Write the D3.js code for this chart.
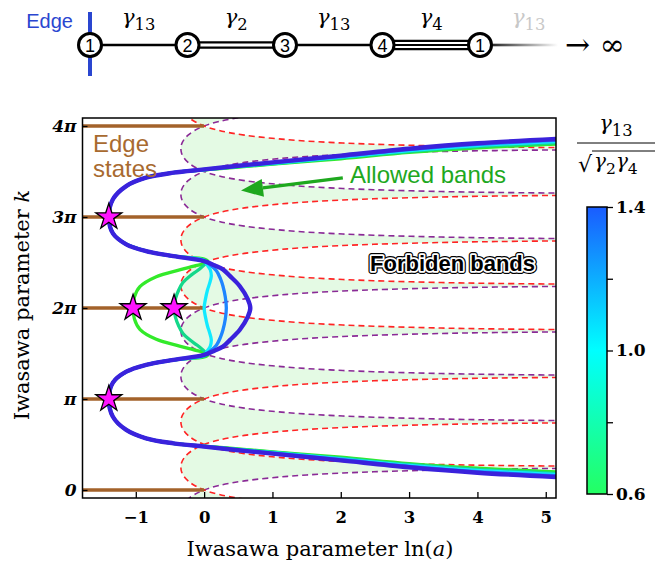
<!DOCTYPE html>
<html lang="en">
<head>
<meta charset="UTF-8">
<title>Iwasawa bands</title>
<script src="https://cdn.jsdelivr.net/npm/d3@7"></script>
<style>
  body { margin: 0; background: #fff; }
  svg { display: block; }
</style>
</head>
<body>
<svg id="chart" width="667" height="563"></svg>
<script>
// ---- data (k in units of pi, x = ln(a)) ----
const nodeLabels = ['1', '2', '3', '4', '1'];
const bondSubs = ['13', '2', '13', '4', '13'];
const bondLines = [1, 2, 1, 3];

const xTicks = [-1, 0, 1, 2, 3, 4, 5];
const yTicks = [0, 1, 2, 3, 4];
const yTickLabels = ['0', 'π', '2π', '3π', '4π'];

// band edge lobe: half width (pi units) vs ln(a)
const edgeHalf = [0, 0.05, 0.1, 0.15, 0.2, 0.25, 0.3, 0.35, 0.4, 0.43, 0.45, 0.47, 0.48, 0.49, 0.495];
const edgeX    = [-0.34, -0.33, -0.295, -0.235, -0.14, 0, 0.22, 0.59, 1.22, 1.84, 2.48, 3.47, 4.27, 5.65, 7.03];
const redCentres = [0.25, 0.75, 2.25, 2.75, 4.25, 4.75];
const purpleCentres = [-0.75, -0.25, 1.25, 1.75, 3.25, 3.75];

// edge state levels
const edgeStateK = [0, 1, 2, 3, 4];

// trajectories, colour parameter gamma13/sqrt(gamma2 gamma4)
const params = [0.6, 0.8, 1.0, 1.2, 1.4];
const curveColors = ['#33ea2a', '#14d88a', '#12eaff', '#1e86ff', '#3a22dc'];
const starArc = [[-0.45, 0.513], [-0.85, 0.568], [-1.14, 0.66], [-1.335, 0.805], [-1.395, 1.0],
                 [-1.335, 1.18], [-1.14, 1.30], [-0.85, 1.375], [-0.45, 1.43]];
const tailX = [5.4, 4, 3, 2, 1, 0.5, 0];
const tailK = {
  0.6: [0.19, 0.24, 0.29, 0.36, 0.42, 0.452, 0.483],
  0.8: [0.175, 0.227, 0.28, 0.35, 0.415, 0.447, 0.481],
  1.0: [0.163, 0.214, 0.27, 0.343, 0.41, 0.443, 0.479],
  1.2: [0.15, 0.202, 0.26, 0.335, 0.405, 0.44, 0.478],
  1.4: [0.133, 0.19, 0.25, 0.325, 0.40, 0.437, 0.477]
};
const innerArc = {
  0.6: [[0, 1.462], [0.05, 1.482], [0.02, 1.505], [-0.15, 1.54], [-0.36, 1.582], [-0.70, 1.656], [-0.94, 1.766], [-1.02, 1.88], [-1.04, 2.0]],
  0.8: [[0, 1.47], [0.04, 1.49], [0.01, 1.52], [-0.1, 1.59], [-0.21, 1.65], [-0.31, 1.72], [-0.37, 1.8], [-0.42, 1.9], [-0.44, 2.0]],
  1.0: [[0, 1.478], [0.04, 1.52], [0.09, 1.58], [0.105, 1.65], [0.08, 1.73], [0.05, 1.8], [0.02, 1.9], [0, 2.0]],
  1.2: [[0, 1.482], [0.08, 1.52], [0.18, 1.59], [0.24, 1.68], [0.275, 1.758], [0.31, 1.88], [0.325, 2.0]],
  1.4: [[0, 1.484], [0.15, 1.53], [0.275, 1.575], [0.38, 1.65], [0.52, 1.758], [0.64, 1.905], [0.676, 2.0]]
};
const stars = [[-1.395, 1], [-1.395, 3], [-1.04, 2], [-0.44, 2]];

const cbTicks = [0.6, 0.8, 1.0, 1.2, 1.4];

// ---- setup ----
const svg = d3.select('#chart');
const serif = "'DejaVu Serif', 'Liberation Serif', serif";
const sans = "'Liberation Sans', Arial, sans-serif";

const x = d3.scaleLinear().domain([-1.78, 5.15]).range([82.5, 556]);
const y = d3.scaleLinear().domain([-0.088, 4.088]).range([498, 118]);

svg.append('defs').append('clipPath').attr('id', 'plotclip')
  .append('rect').attr('x', 82.5).attr('y', 118).attr('width', 556 - 82.5).attr('height', 498 - 118);

function gamma(sel, sub, size) {
  sel.append('tspan').attr('font-style', 'italic').text('γ');
  sel.append('tspan').attr('dy', size * 0.28).attr('font-size', size * 0.78).text(sub);
}

// ---- top chain diagram ----
const chain = svg.append('g');
const nx = d3.scalePoint().domain(d3.range(nodeLabels.length)).range([90, 480]);
const cy = 45;

// fading bond to infinity
const grad = svg.select('defs').append('linearGradient').attr('id', 'fade')
  .attr('x1', '0%').attr('x2', '100%');
grad.append('stop').attr('offset', '0%').attr('stop-color', '#000');
grad.append('stop').attr('offset', '100%').attr('stop-color', '#fff');
chain.append('rect').attr('x', nx(4)).attr('y', cy - 1.3).attr('width', 78).attr('height', 2.6)
  .attr('fill', 'url(#fade)');

bondLines.forEach((n, i) => {
  const offs = n === 1 ? [0] : n === 2 ? [-2.6, 2.6] : [-4.2, 0, 4.2];
  offs.forEach(o => {
    chain.append('line')
      .attr('x1', nx(i)).attr('x2', nx(i + 1))
      .attr('y1', cy + o).attr('y2', cy + o)
      .attr('stroke', '#000').attr('stroke-width', n === 1 ? 2.6 : 2.2);
  });
});

bondSubs.forEach((s, i) => {
  const t = chain.append('text')
    .attr('x', nx(i) + (nx(1) - nx(0)) / 2).attr('y', 24)
    .attr('text-anchor', 'middle')
    .attr('font-family', serif).attr('font-size', 21)
    .attr('fill', i === 4 ? '#c8c8c8' : '#000');
  gamma(t, s, 21);
});

// edge bar
chain.append('line').attr('x1', nx(0)).attr('x2', nx(0)).attr('y1', 12).attr('y2', 76)
  .attr('stroke', '#2a46d0').attr('stroke-width', 4);
chain.append('text').attr('x', 73).attr('y', 28).attr('text-anchor', 'end')
  .attr('font-family', sans).attr('font-size', 20).attr('fill', '#2a46d0').text('Edge');

const nodes = chain.selectAll('g.node').data(nodeLabels).enter().append('g')
  .attr('transform', (d, i) => `translate(${nx(i)},${cy})`);
nodes.append('circle').attr('r', 11.5).attr('fill', '#fff').attr('stroke', '#000').attr('stroke-width', 3);
nodes.append('text').attr('y', 6.5).attr('text-anchor', 'middle')
  .attr('font-family', sans).attr('font-size', 18).text(d => d);

chain.append('text').attr('x', 565).attr('y', 55)
  .attr('font-family', serif).attr('font-size', 30).text('→ ∞');

// ---- main plot ----
const plot = svg.append('g').attr('clip-path', 'url(#plotclip)');

function lobe(c) {
  const pts = [];
  for (let i = edgeHalf.length - 1; i >= 0; i--) pts.push([edgeX[i], c - edgeHalf[i]]);
  for (let i = 1; i < edgeHalf.length; i++) pts.push([edgeX[i], c + edgeHalf[i]]);
  return pts;
}
const edgeLine = d3.line().x(d => x(d[0])).y(d => y(d[1])).curve(d3.curveCatmullRom.alpha(0.5));

// allowed bands fill: odd overlap count
const allCentres = redCentres.concat(purpleCentres);
plot.append('path')
  .attr('d', allCentres.map(c => edgeLine(lobe(c)) + 'Z').join(' '))
  .attr('fill', '#e4fae4').attr('fill-rule', 'evenodd');

// dashed band edges
[[purpleCentres, '#8a2a96'], [redCentres, '#ff2424']].forEach(([cs, col]) => {
  plot.selectAll(null).data(cs).enter().append('path')
    .attr('d', c => edgeLine(lobe(c)))
    .attr('fill', 'none').attr('stroke', col).attr('stroke-width', 1.6)
    .attr('stroke-dasharray', '6,4');
});

// edge states
plot.selectAll('line.edge').data(edgeStateK).enter().append('line')
  .attr('x1', x(-1.78)).attr('x2', x(0))
  .attr('y1', d => y(d)).attr('y2', d => y(d))
  .attr('stroke', '#a3622a').attr('stroke-width', 3.5);

// trajectories
function trajectory(p) {
  const bottom = tailX.map((tx, i) => [tx, tailK[p][i]]).concat(starArc, innerArc[p]);
  const top = bottom.slice(0, -1).reverse().map(d => [d[0], 4 - d[1]]);
  return bottom.concat(top);
}
const trajLine = d3.line().x(d => x(d[0])).y(d => y(d[1])).curve(d3.curveCatmullRom.alpha(0.5));
params.forEach((p, i) => {
  plot.append('path').attr('d', trajLine(trajectory(p)))
    .attr('fill', 'none').attr('stroke', curveColors[i])
    .attr('stroke-width', i === params.length - 1 ? 4.4 : 3.3)
    .attr('stroke-linejoin', 'round');
});

// stars
svg.selectAll('path.star').data(stars).enter().append('path')
  .attr('transform', d => `translate(${x(d[0])},${y(d[1])})`)
  .attr('d', d3.symbol(d3.symbolStar, 210))
  .attr('fill', '#ff14ff').attr('stroke', '#000').attr('stroke-width', 1.3);

// frame and axes
svg.append('rect').attr('x', 82.5).attr('y', 118).attr('width', 556 - 82.5).attr('height', 498 - 118)
  .attr('fill', 'none').attr('stroke', '#000').attr('stroke-width', 1.5);

const xAxis = svg.append('g').attr('transform', 'translate(0,498)')
  .call(d3.axisBottom(x).tickValues(xTicks).tickSize(-6).tickPadding(13).tickFormat(d3.format('d')));
const yAxis = svg.append('g').attr('transform', 'translate(82.5,0)')
  .call(d3.axisLeft(y).tickValues(yTicks).tickSize(-5).tickPadding(6).tickFormat((d, i) => yTickLabels[i]));
[xAxis, yAxis].forEach(a => {
  a.select('.domain').remove();
  a.selectAll('line').attr('stroke', '#000').attr('stroke-width', 1.3);
  a.selectAll('text').attr('font-family', serif).attr('font-weight', 'bold')
    .attr('font-size', 16.5).attr('fill', '#000');
});
yAxis.selectAll('text').attr('font-style', 'italic').attr('font-size', 17);

svg.append('text').attr('x', 320).attr('y', 556).attr('text-anchor', 'middle')
  .attr('font-family', serif).attr('font-size', 21)
  .call(t => {
    t.append('tspan').text('Iwasawa parameter ln(');
    t.append('tspan').attr('font-style', 'italic').text('a');
    t.append('tspan').text(')');
  });
svg.append('text').attr('transform', 'translate(29,305) rotate(-90)').attr('text-anchor', 'middle')
  .attr('font-family', serif).attr('font-size', 21)
  .call(t => {
    t.append('tspan').text('Iwasawa parameter ');
    t.append('tspan').attr('font-style', 'italic').text('k');
  });

// annotations
svg.append('text').attr('x', 93).attr('y', 152).attr('font-family', sans).attr('font-size', 24)
  .attr('fill', '#a86a30').text('Edge');
svg.append('text').attr('x', 93).attr('y', 177).attr('font-family', sans).attr('font-size', 24)
  .attr('fill', '#a86a30').text('states');

svg.append('text').attr('x', 350).attr('y', 183).attr('font-family', sans).attr('font-size', 24)
  .attr('fill', '#1ea81e').text('Allowed bands');
const ax0 = [x(2.03), y(3.43)], ax1 = [x(0.54), y(3.29)];
const ang = Math.atan2(ax1[1] - ax0[1], ax1[0] - ax0[0]);
const hl = 22, hw = 9;
const base = [ax1[0] - hl * Math.cos(ang), ax1[1] - hl * Math.sin(ang)];
svg.append('line').attr('x1', ax0[0]).attr('y1', ax0[1]).attr('x2', base[0]).attr('y2', base[1])
  .attr('stroke', '#1ea81e').attr('stroke-width', 3.5);
svg.append('path').attr('fill', '#1ea81e')
  .attr('d', `M${ax1[0]},${ax1[1]}L${base[0] - hw * Math.sin(ang)},${base[1] + hw * Math.cos(ang)}L${base[0] + hw * Math.sin(ang)},${base[1] - hw * Math.cos(ang)}Z`);

const fb = svg.append('g').attr('font-family', sans).attr('font-size', 22).attr('font-weight', 'bold');
[['#000', 6], ['#fff', 3.6]].forEach(([c, w]) => {
  fb.append('text').attr('x', 370).attr('y', 271).attr('fill', 'none').attr('stroke', c)
    .attr('stroke-width', w).attr('stroke-linejoin', 'round').text('Forbiden bands');
});
fb.append('text').attr('x', 370).attr('y', 271).attr('fill', '#000').text('Forbiden bands');

// ---- colour bar ----
const cb = d3.scaleLinear().domain([0.6, 1.4]).range([494, 207]);
const cbg = svg.select('defs').append('linearGradient').attr('id', 'cbgrad')
  .attr('x1', '0%').attr('x2', '0%').attr('y1', '100%').attr('y2', '0%');
[['0%', '#24ff62'], ['50%', '#00ffff'], ['100%', '#1a5cff']].forEach(([o, c]) =>
  cbg.append('stop').attr('offset', o).attr('stop-color', c));
svg.append('rect').attr('x', 587).attr('y', cb(1.4)).attr('width', 20).attr('height', cb(0.6) - cb(1.4))
  .attr('fill', 'url(#cbgrad)').attr('stroke', '#000').attr('stroke-width', 1.5);
const cbAxis = svg.append('g').attr('transform', 'translate(607,0)')
  .call(d3.axisRight(cb).tickValues(cbTicks).tickSize(6).tickPadding(3)
    .tickFormat(d => (Math.abs(d - 0.8) < 1e-6 || Math.abs(d - 1.2) < 1e-6) ? '' : d3.format('.1f')(d)));
cbAxis.select('.domain').remove();
cbAxis.selectAll('line').attr('stroke', '#000').attr('stroke-width', 1.3);
cbAxis.selectAll('text').attr('font-family', serif).attr('font-weight', 'bold')
  .attr('font-size', 17).attr('fill', '#000');

const num = svg.append('text').attr('x', 616).attr('y', 130).attr('text-anchor', 'middle')
  .attr('font-family', serif).attr('font-size', 21);
gamma(num, '13', 21);
svg.append('line').attr('x1', 577).attr('x2', 655).attr('y1', 143).attr('y2', 143)
  .attr('stroke', '#000').attr('stroke-width', 1);
svg.append('text').attr('x', 578).attr('y', 172).attr('font-family', serif).attr('font-size', 22).text('√');
svg.append('line').attr('x1', 592).attr('x2', 655).attr('y1', 151).attr('y2', 151)
  .attr('stroke', '#000').attr('stroke-width', 1);
const den = svg.append('text').attr('x', 594).attr('y', 168).attr('font-family', serif).attr('font-size', 20);
gamma(den, '2', 20);
den.append('tspan').attr('dy', -5.6).attr('font-style', 'italic').text('γ');
den.append('tspan').attr('dy', 5.6).attr('font-size', 15.6).text('4');
</script>
</body>
</html>
